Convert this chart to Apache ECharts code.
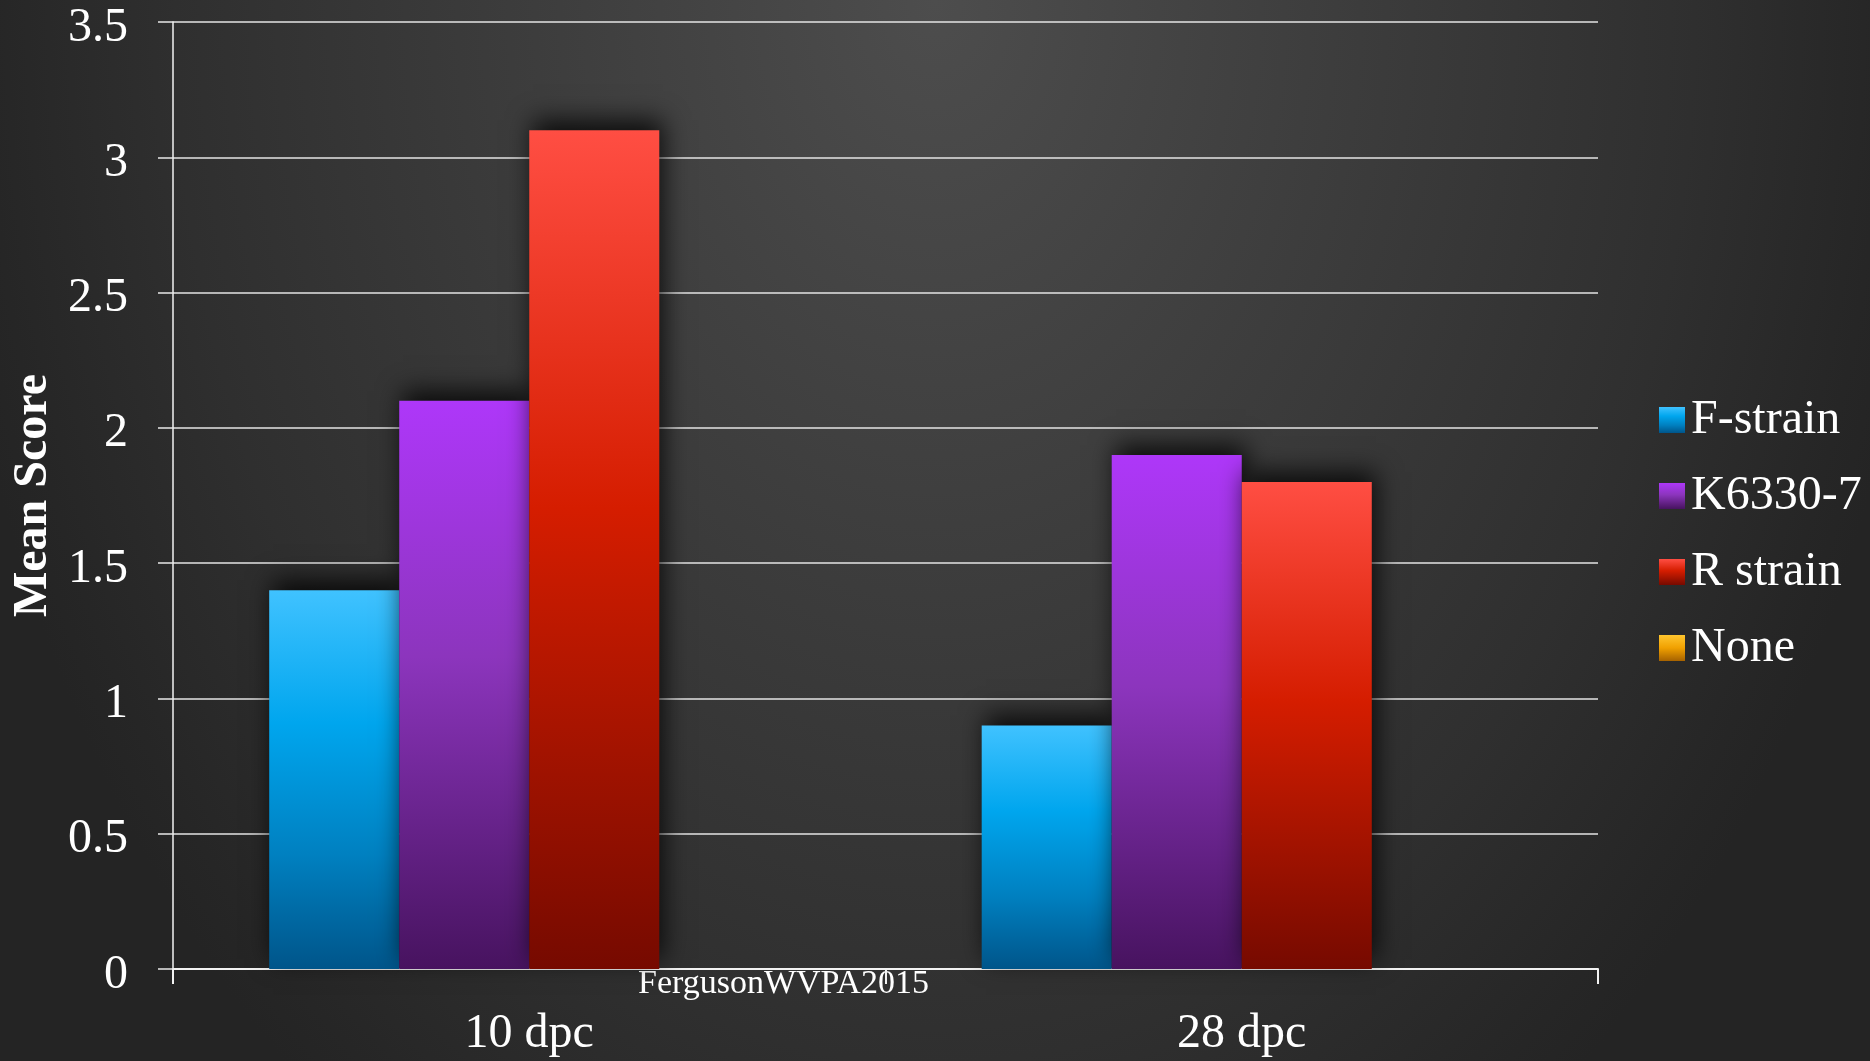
<!DOCTYPE html>
<html>
<head>
<meta charset="utf-8">
<script src="https://cdn.jsdelivr.net/npm/echarts@6/dist/echarts.min.js"></script>
<style>
  html, body { margin: 0; padding: 0; }
  #chart {
    width: 1870px; height: 1061px;
    background: radial-gradient(ellipse 1000px 1400px at 50% 0%,
      #4d4d4d 0%, #3d3d3d 40%, #2f2f2f 76%, #262626 95%, #242424 100%);
  }
</style>
</head>
<body>
<div id="chart"></div>
<script>
// Time points (days post challenge)
const categories = ['10 dpc', '28 dpc'];

// Mean scores per challenge strain
const fStrain = [1.4, 0.9];
const k6330 = [2.1, 1.9];
const rStrain = [3.1, 1.8];
const none = [0, 0];

const seriesNames = ['F-strain', 'K6330-7', 'R strain', 'None'];

const yTicks = { min: 0, max: 3.5, interval: 0.5 };

const serif = '"Liberation Serif", "DejaVu Serif", serif';

function vGrad(stops) {
  return new echarts.graphic.LinearGradient(0, 0, 0, 1,
    stops.map(([offset, color]) => ({ offset, color })));
}

const fills = [
  vGrad([[0, '#40c2ff'], [0.35, '#00a6ee'], [0.7, '#0080c0'], [1, '#00558a']]),
  vGrad([[0, '#ae37f9'], [0.45, '#8c35bd'], [1, '#47135f']]),
  vGrad([[0, '#ff4e43'], [0.45, '#d51d00'], [1, '#760a00']]),
  vGrad([[0, '#ffc62f'], [0.5, '#f0a000'], [1, '#a66200']])
];

const values = [fStrain, k6330, rStrain, none];

const chart = echarts.init(document.getElementById('chart'), null, { renderer: 'canvas' });

chart.setOption({
  backgroundColor: 'transparent',
  animation: false,
  grid: { left: 173, right: 272, top: 22, bottom: 92 },
  legend: {
    orient: 'vertical',
    left: 1654,
    top: 391,
    itemWidth: 26,
    itemHeight: 26,
    itemGap: 28,
    icon: 'rect',
    data: seriesNames,
    textStyle: {
      color: '#ffffff',
      fontFamily: serif,
      fontSize: 48,
      lineHeight: 48,
      padding: [0, 0, 0, 1]
    }
  },
  xAxis: {
    type: 'category',
    data: categories,
    axisLine: { lineStyle: { color: '#f2f2f2', width: 2 } },
    axisTick: { show: true, length: 15, lineStyle: { color: '#f2f2f2', width: 2 } },
    axisLabel: {
      color: '#ffffff',
      fontFamily: serif,
      fontSize: 48,
      lineHeight: 48,
      margin: 41
    }
  },
  yAxis: {
    type: 'value',
    min: yTicks.min,
    max: yTicks.max,
    interval: yTicks.interval,
    name: 'Mean Score',
    nameLocation: 'middle',
    nameGap: 113,
    nameRotate: 90,
    nameTextStyle: {
      color: '#ffffff',
      fontFamily: serif,
      fontWeight: 'bold',
      fontSize: 48
    },
    axisLine: { show: true, lineStyle: { color: '#f2f2f2', width: 1.5 } },
    axisTick: { show: true, length: 15, lineStyle: { color: '#e8e8e8', width: 1.5 } },
    axisLabel: {
      color: '#ffffff',
      fontFamily: serif,
      fontSize: 48,
      margin: 45,
      verticalAlign: 'top',
      lineHeight: 12
    },
    splitLine: { lineStyle: { color: '#e4e4e4', width: 1.5 } }
  },
  series: seriesNames.map((name, i) => ({
    name,
    type: 'bar',
    data: values[i],
    barGap: '0%',
    barCategoryGap: '27%',
    itemStyle: {
      color: fills[i],
      shadowColor: 'rgba(0,0,0,0.8)',
      shadowBlur: 24,
      shadowOffsetX: 4,
      shadowOffsetY: -10
    }
  })),
  graphic: [{
    type: 'text',
    left: 638,
    top: 967,
    style: {
      text: 'FergusonWVPA2015',
      fill: '#ffffff',
      font: '34px ' + serif,
      shadowColor: 'rgba(0,0,0,0.85)',
      shadowBlur: 5,
      shadowOffsetX: 2,
      shadowOffsetY: 3
    }
  }]
});
</script>
</body>
</html>
